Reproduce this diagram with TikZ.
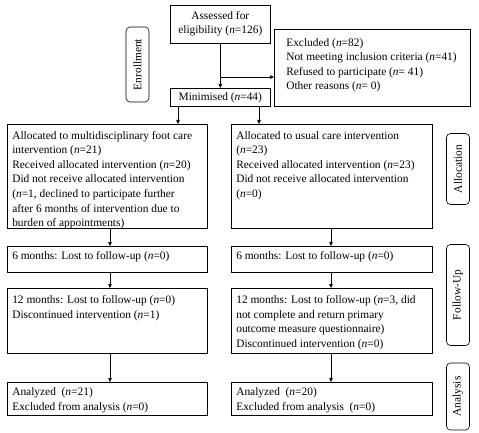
\documentclass[tikz,border=0pt]{standalone}
\usepackage{fontspec}
\setmainfont{Liberation Serif}
\usetikzlibrary{arrows.meta}
\tikzset{
  box/.style={draw, line width=0.6pt, anchor=north west, inner xsep=5pt, inner ysep=0pt},
  lab/.style={draw, line width=0.6pt, rounded corners=4pt, rotate=90, inner sep=0pt, anchor=center},
  arr/.style={line width=0.6pt, -{Triangle[length=4pt,width=3.5pt]}}
}
\newcommand\lbox[4]{\parbox[c][#2pt][t]{#1pt}{\raggedright\vspace{#3pt}\strut #4}}
\begin{document}
\begin{tikzpicture}[x=1pt,y=-1pt,font=\fontsize{11.4}{14.6}\selectfont]
\useasboundingbox (0,0) rectangle (479,433);
% enrollment
\node[box] (assess) at (170,5) {\parbox[c][38pt][t]{90pt}{\centering\vspace{3.5pt}\strut Assessed for\\ eligibility (\textit{n}=126)}};
\node[box, inner xsep=12pt] (excl) at (274,29) {\lbox{172}{77}{6.5}{Excluded (\textit{n}=82)\\ Not meeting inclusion criteria (\textit{n}=41)\\ Refused to participate (\textit{n}= 41)\\ Other reasons (\textit{n}= 0)}};
\node[box, minimum width=100pt, minimum height=18pt, inner ysep=0pt] (mini) at (170,88) {Minimised (\textit{n}=44)};
% allocation
\node[box] (allocL) at (7,124) {\lbox{190}{104}{4.5}{Allocated to multidisciplinary foot care\\ intervention (\textit{n}=21)\\ Received allocated intervention (\textit{n}=20)\\ Did not receive allocated intervention\\ (\textit{n}=1, declined to participate further\\ after 6 months of intervention due to\\ burden of appointments)}};
\node[box] (allocR) at (231,124) {\lbox{191}{104}{4.5}{Allocated to usual care intervention\\ (\textit{n}=23)\\ Received allocated intervention (\textit{n}=23)\\ Did not receive allocated intervention\\ (\textit{n}=0)}};
% follow-up
\node[box] (sixL) at (7,246) {\lbox{190}{26}{2.5}{6 months: Lost to follow-up (\textit{n}=0)}};
\node[box] (sixR) at (231,246) {\lbox{191}{26}{2.5}{6 months: Lost to follow-up (\textit{n}=0)}};
\node[box] (twL) at (7,288) {\lbox{190}{65}{5}{12 months: Lost to follow-up (\textit{n}=0)\\ Discontinued intervention (\textit{n}=1)}};
\node[box] (twR) at (231,288) {\lbox{191}{65}{5}{12 months: Lost to follow-up (\textit{n}=3, did\\ not complete and return primary\\ outcome measure questionnaire)\\ Discontinued intervention (\textit{n}=0)}};
% analysis
\node[box] (anL) at (7,382) {\lbox{190}{33}{3}{Analyzed\ \ (\textit{n}=21)\\ Excluded from analysis (\textit{n}=0)}};
\node[box] (anR) at (231,382) {\lbox{191}{33}{3}{Analyzed\ \ (\textit{n}=20)\\ Excluded from analysis\ \ (\textit{n}=0)}};
% stage labels
\node[lab, minimum width=75pt, minimum height=23pt] (labEnr) at (137.5,64.5) {Enrollment};
\node[lab, minimum width=71pt, minimum height=23pt] (labAlloc) at (458,169) {Allocation};
\node[lab, minimum width=101pt, minimum height=23pt] (labFU) at (458,295) {Follow-Up};
\node[lab, minimum width=67pt, minimum height=23pt] (labAn) at (458,396.5) {Analysis};
% connectors
\coordinate (sL) at (178,0);
\coordinate (sR) at (259,0);
\coordinate (cL) at (110,0);
\coordinate (cR) at (331,0);
\coordinate (j) at (220,77);
\draw[arr] (assess.south) -- (mini.north);
\draw[arr] (j) -- (j -| excl.west);
\draw[arr] (mini.south -| sL) -- (allocL.north -| sL);
\draw[arr] (mini.south -| sR) -- (allocR.north -| sR);
\draw[arr] (allocL.south -| cL) -- (sixL.north -| cL);
\draw[arr] (allocR.south -| cR) -- (sixR.north -| cR);
\draw[arr] (sixL.south -| cL) -- (twL.north -| cL);
\draw[arr] (sixR.south -| cR) -- (twR.north -| cR);
\draw[arr] (twL.south -| cL) -- (anL.north -| cL);
\draw[arr] (twR.south -| cR) -- (anR.north -| cR);
\end{tikzpicture}
\end{document}
